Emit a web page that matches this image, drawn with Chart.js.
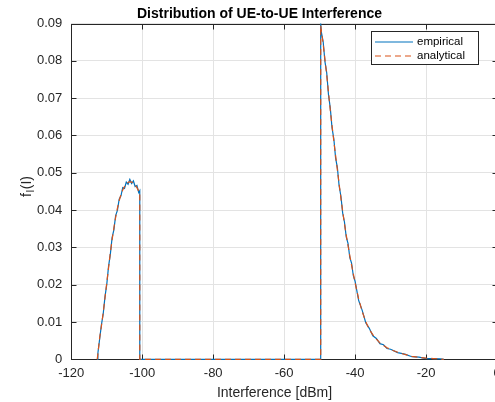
<!DOCTYPE html>
<html>
<head>
<meta charset="utf-8">
<script src="https://cdn.jsdelivr.net/npm/chart.js@4/dist/chart.umd.min.js"></script>
<style>
  html, body { margin: 0; padding: 0; background: #fff; overflow: hidden; }
  canvas { display: block; }
</style>
</head>
<body>
<canvas id="pdf-chart" width="500" height="402" style="width:500px;height:402px"></canvas>
<script>
// interference grid [dBm], shared by both curves
const interference = [
  -112.7, -112.5, -112, -111.5, -111, -110.5, -110, -109.5, -109, -108.5,
  -108, -107.5, -107, -106.5, -106, -105.5, -105, -104.5, -104, -103.5,
  -103, -102.5, -102, -101.5, -101, -100.7, -100.7, -49.7, -49.7, -49.5,
  -49, -48.5, -48, -47.5, -47, -46.5, -46, -45.5, -45, -44.5,
  -44, -43.5, -43, -42.5, -42, -41.5, -41, -40.5, -40, -39,
  -38, -37, -36, -35, -34, -33, -32, -31, -30, -28,
  -26, -24, -22, -20, -18, -16, -15
];
const analytical = [
  0, 0.0015, 0.0058, 0.0090, 0.0125, 0.0165, 0.0205, 0.0245, 0.0285, 0.0320,
  0.0352, 0.0380, 0.0405, 0.0425, 0.0442, 0.0454, 0.0463, 0.0470, 0.0474, 0.0476,
  0.0475, 0.0472, 0.0467, 0.0460, 0.0451, 0.0445, 0, 0, 0.0895, 0.0880,
  0.0845, 0.0804, 0.0762, 0.0715, 0.0668, 0.0626, 0.0585, 0.0546, 0.0508, 0.0470,
  0.0432, 0.0397, 0.0363, 0.0333, 0.0305, 0.0278, 0.0253, 0.0229, 0.0205, 0.0162,
  0.0128, 0.0101, 0.0080, 0.0066, 0.0054, 0.0044, 0.0037, 0.0031, 0.0026, 0.0019,
  0.0013, 0.0008, 0.0005, 0.0003, 0.0002, 0.0001, 0
];
const empirical = [
  0, 0.0017, 0.0055, 0.0093, 0.0122, 0.0168, 0.0201, 0.0249, 0.0281, 0.0326,
  0.0347, 0.0385, 0.0399, 0.0429, 0.0438, 0.0460, 0.0458, 0.0475, 0.0469, 0.0482,
  0.0471, 0.0478, 0.0463, 0.0466, 0.0447, 0.0452, 0, 0, 0.0900, 0.0876,
  0.0851, 0.0798, 0.0768, 0.0709, 0.0674, 0.0620, 0.0591, 0.0540, 0.0514, 0.0465,
  0.0437, 0.0392, 0.0368, 0.0328, 0.0311, 0.0273, 0.0258, 0.0224, 0.0209, 0.0158,
  0.0131, 0.0098, 0.0083, 0.0063, 0.0056, 0.0042, 0.0039, 0.0029, 0.0027, 0.0018,
  0.0014, 0.0007, 0.0006, 0.0002, 0.0002, 0.0001, 0
];
const seriesNames = ['empirical', 'analytical'];
const seriesColors = ['#0072BD', '#D95319'];

const FONT = 'Liberation Sans, Arial, Helvetica, sans-serif';
const AXIS_COLOR = '#262626';

function toPoints(ys) {
  return interference.map((x, i) => ({ x: x, y: ys[i] }));
}

// box, inward ticks, title, axis labels and legend in matlab style
const matlabLook = {
  id: 'matlabLook',
  beforeDatasetsDraw(chart) {
    const { ctx, chartArea: a, scales } = chart;
    const L = Math.round(a.left) + 0.5, R = Math.round(a.right) + 0.5;
    const T = Math.round(a.top) + 0.5, B = Math.round(a.bottom) + 0.5;
    ctx.save();
    ctx.strokeStyle = AXIS_COLOR;
    ctx.lineWidth = 1;
    ctx.strokeRect(L, T, R - L, B - T);
    ctx.beginPath();
    scales.x.ticks.forEach(t => {
      const px = Math.round(scales.x.getPixelForValue(t.value)) + 0.5;
      ctx.moveTo(px, B); ctx.lineTo(px, B - 5);
      ctx.moveTo(px, T); ctx.lineTo(px, T + 5);
    });
    scales.y.ticks.forEach(t => {
      const py = Math.round(scales.y.getPixelForValue(t.value)) + 0.5;
      ctx.moveTo(L, py); ctx.lineTo(L + 5, py);
      ctx.moveTo(R, py); ctx.lineTo(R - 5, py);
    });
    ctx.stroke();
    ctx.restore();
  },
  afterDatasetsDraw(chart) {
    const ctx = chart.ctx;
    ctx.save();
    // legend
    ctx.fillStyle = '#fff';
    ctx.fillRect(371, 31, 108, 33);
    ctx.strokeStyle = AXIS_COLOR;
    ctx.lineWidth = 1;
    ctx.strokeRect(371.5, 31.5, 107, 33);
    const rows = [42, 56];
    seriesNames.forEach((name, i) => {
      ctx.beginPath();
      ctx.strokeStyle = seriesColors[i];
      ctx.lineWidth = 1.2;
      ctx.setLineDash(i === 1 ? [6, 4] : []);
      ctx.moveTo(375, rows[i]);
      ctx.lineTo(413, rows[i]);
      ctx.stroke();
      ctx.setLineDash([]);
      ctx.fillStyle = '#000';
      ctx.font = '11.5px ' + FONT;
      ctx.textAlign = 'left';
      ctx.textBaseline = 'middle';
      ctx.fillText(name, 417, rows[i]);
    });
    ctx.restore();
  },
  afterDraw(chart) {
    const ctx = chart.ctx;
    ctx.save();
    ctx.fillStyle = '#000';
    ctx.textBaseline = 'alphabetic';
    ctx.textAlign = 'center';
    ctx.font = 'bold 14px ' + FONT;
    ctx.fillText('Distribution of UE-to-UE Interference', 259.5, 17.5);
    ctx.fillStyle = AXIS_COLOR;
    ctx.font = '14px ' + FONT;
    ctx.fillText('Interference [dBm]', 274.5, 396.5);

    // y label: f with subscript I, then (I)
    ctx.translate(30.5, 187);
    ctx.rotate(-Math.PI / 2);
    ctx.textAlign = 'left';
    const big = '14px ' + FONT, small = '10px ' + FONT;
    ctx.font = big; const wf = ctx.measureText('f').width;
    ctx.font = small; const ws = ctx.measureText('I').width;
    ctx.font = big; const wp = ctx.measureText('(I)').width;
    let x0 = -(wf + ws + wp) / 2;
    ctx.font = big; ctx.fillText('f', x0, 0);
    ctx.font = small; ctx.fillText('I', x0 + wf + 0.5, 3);
    ctx.font = big; ctx.fillText('(I)', x0 + wf + ws + 1, 0);
    ctx.restore();
  }
};

const ctx1 = document.getElementById('pdf-chart');
const chart1 = new Chart(ctx1, {
  type: 'line',
  data: {
    datasets: [{
      label: seriesNames[0],
      data: toPoints(empirical),
      borderColor: seriesColors[0],
      borderWidth: 1.2,
      order: 1
    },
    {
      label: seriesNames[1],
      data: toPoints(analytical),
      borderColor: seriesColors[1],
      borderWidth: 1.2,
      borderDash: [6, 4],
      order: 0
    }]
  },
  options: {
    responsive: false,
    maintainAspectRatio: false,
    animation: false,
    clip: false,
    elements: {
      point: { radius: 0 },
      line: { tension: 0 }
    },
    layout: { padding: { top: 23.5, right: 3, left: 0, bottom: 0 } },
    plugins: {
      legend: { display: false },
      title: { display: false },
      tooltip: { enabled: false }
    },
    scales: {
      x: {
        type: 'linear',
        min: -120,
        max: 0,
        afterFit(scale) {
          scale.height = 42.7;
          scale.paddingLeft = 0;
          scale.paddingRight = 0;
        },
        ticks: {
          stepSize: 20,
          padding: 6,
          color: AXIS_COLOR,
          font: { family: FONT, size: 13 },
          maxRotation: 0
        },
        grid: { color: '#e3e3e3', drawTicks: false },
        border: { display: false }
      },
      y: {
        min: 0,
        max: 0.09,
        afterFit(scale) {
          scale.width = 71.3;
          scale.paddingTop = 0;
          scale.paddingBottom = 0;
        },
        ticks: {
          stepSize: 0.01,
          padding: 9,
          color: AXIS_COLOR,
          font: { family: FONT, size: 13 },
          callback: v => (Math.abs(v) < 1e-9 ? '0' : v.toFixed(2))
        },
        grid: { color: '#e3e3e3', drawTicks: false },
        border: { display: false }
      }
    }
  },
  plugins: [matlabLook]
});
</script>
</body>
</html>
